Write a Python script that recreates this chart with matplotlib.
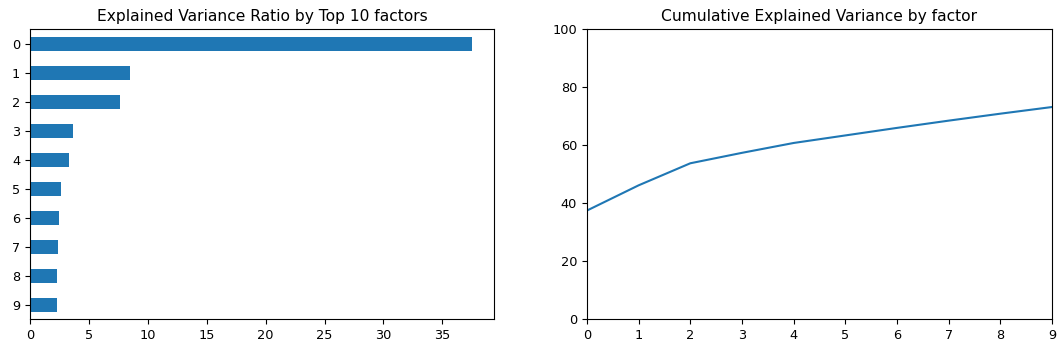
import numpy as np
import matplotlib
matplotlib.use("Agg")
import matplotlib.pyplot as plt

# explained variance ratio (%) of the top 10 factors
factors = list(range(10))
variance_ratio = [37.5, 8.53, 7.6, 3.69, 3.29, 2.64, 2.47, 2.41, 2.32, 2.32]

# cumulative explained variance (%) by factor
cumulative = [37.5, 46.2, 53.8, 57.4, 60.8, 63.4, 66.0, 68.5, 70.9, 73.2]

fig = plt.figure(figsize=(10.62, 3.45), dpi=100)
plt.rcParams['font.size'] = 9.3

ax1 = fig.add_axes([0.0282, 0.0745, 0.4369, 0.8406])
ax1.barh(factors, variance_ratio, height=0.5, color='#1f77b4')
ax1.set_ylim(9.5, -0.5)
ax1.set_yticks(factors)
ax1.set_title('Explained Variance Ratio by Top 10 factors', fontsize=11.2)

ax2 = fig.add_axes([0.5527, 0.0745, 0.4379, 0.8406])
ax2.plot(factors, cumulative, color='#1f77b4')
ax2.set_xlim(0, 9)
ax2.set_ylim(0, 100)
ax2.set_xticks(factors)
ax2.set_title('Cumulative Explained Variance by factor', fontsize=11.2)

fig.savefig('out.png', dpi=100)
